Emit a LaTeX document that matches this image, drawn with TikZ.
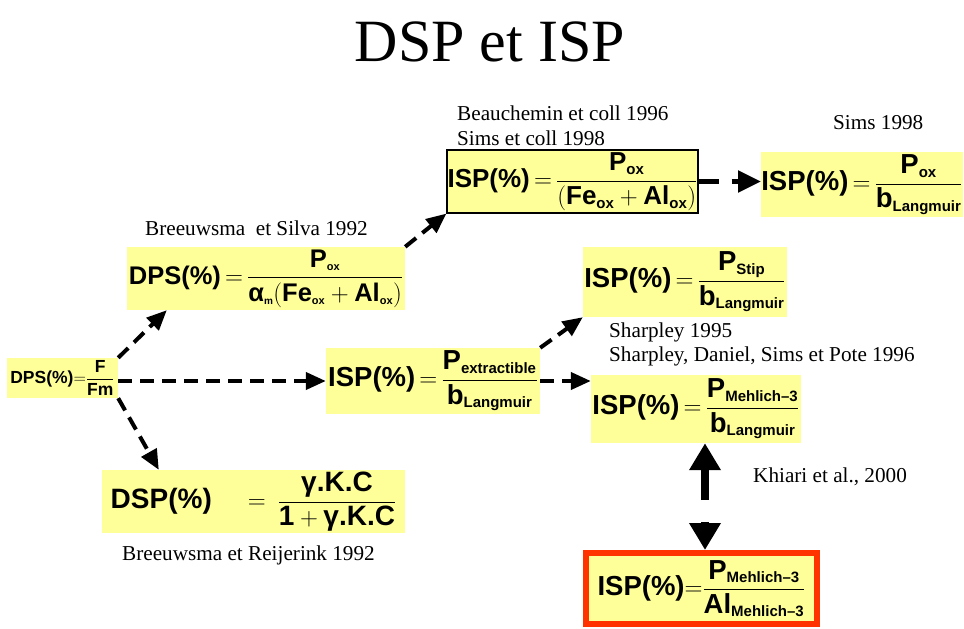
\documentclass[tikz,border=0pt]{standalone}
\usepackage{amsmath}
\usepackage{fontspec}
\setmainfont{Liberation Serif}
\setsansfont{Liberation Sans}
\usetikzlibrary{arrows.meta}
\definecolor{boxyellow}{HTML}{FFFF99}
\definecolor{framered}{HTML}{FF3300}
\newcommand\lo[2][15]{_{\hbox{\fontsize{#1}{#1}\selectfont #2}}}
\newcommand\eq{\mkern3mu{=}\mkern3mu}

\begin{document}
\begin{tikzpicture}[x=1pt,y=-1pt,
  formula/.style={fill=boxyellow, inner sep=0pt, font=\sffamily\bfseries\fontsize{27.5}{32}\selectfont},
  ref/.style={anchor=base west, inner sep=0pt, font=\fontsize{21.2}{24}\selectfont},
  dasharrow/.style={line width=4pt, dash pattern=on 14pt off 8pt, -{Triangle[length=20pt,width=17pt]}},
  bigarrow/.style={line width=8pt, -{Triangle[length=27pt,width=30pt]}}]
\useasboundingbox (0,0) rectangle (964,629);

\node[anchor=base, font=\fontsize{60}{60}\selectfont] (title) at (490,61) {DSP et ISP};

% formulas
\node[formula, minimum width=111pt, minimum height=40pt, font=\sffamily\bfseries\fontsize{17.5}{20}\selectfont] (dps0) at (62.5,378)
  {$\hbox{DPS(\%)}{=}\dfrac{\hbox{F}}{\hbox{Fm}}$};
\node[formula, minimum width=278pt, minimum height=63pt, font=\sffamily\bfseries\fontsize{25.5}{30}\selectfont] (dpsA) at (266,278.5)
  {$\hbox{DPS(\%)}\eq\dfrac{\hbox{P}\lo[11]{ox}}{\hbox{α}\lo[10]{m}\mkern-3mu\left(\hbox{Fe}\lo[11]{ox}+\hbox{Al}\lo[11]{ox}\right)}$};
\node[formula, draw=black, line width=1.2pt, minimum width=251pt, minimum height=63pt, font=\sffamily\bfseries\fontsize{26}{30}\selectfont] (ispOx) at (572.5,181.5)
  {$\hbox{ISP(\%)}\eq\dfrac{\hbox{P}\lo{ox}}{\left(\hbox{Fe}\lo{ox}+\hbox{Al}\lo{ox}\right)}$};
\node[formula, minimum width=200pt, minimum height=65pt] (sims) at (862,184.5)
  {$\hbox{ISP(\%)}\eq\dfrac{\hbox{P}\lo{ox}}{\hbox{b}\lo{Langmuir}}$};
\node[formula, minimum width=204pt, minimum height=70pt] (stip) at (685,282)
  {$\hbox{ISP(\%)}\eq\dfrac{\hbox{P}\lo{Stip}}{\hbox{b}\lo{Langmuir}}$};
\node[formula, minimum width=214pt, minimum height=66pt] (pext) at (433,381)
  {$\hbox{ISP(\%)}\eq\dfrac{\hbox{P}\lo{extractible}}{\hbox{b}\lo{Langmuir}}$};
\node[formula, minimum width=210pt, minimum height=68pt] (mehl) at (696,409)
  {$\hbox{ISP(\%)}\eq\dfrac{\hbox{P}\lo{Mehlich--3}}{\hbox{b}\lo{Langmuir}}$};
\node[formula, minimum width=303pt, minimum height=63pt, font=\sffamily\bfseries\fontsize{28}{32}\selectfont] (dsp) at (253.5,501.5)
  {$\hbox{DSP(\%)}\hspace{36pt}{=}\hspace{12pt}\dfrac{\hbox{γ.K.C}}{\hbox{1}+\hbox{γ.K.C}}$};
\node[formula, draw=framered, line width=6pt, minimum width=231pt, minimum height=71pt] (red) at (701.5,588.5)
  {$\hbox{ISP(\%)}{=}\dfrac{\hbox{P}\lo{Mehlich--3}}{\hbox{Al}\lo{Mehlich--3}}$};

% references
\node[ref] (silva) at (145,235) {Breeuwsma \ et Silva 1992};
\node[ref] (beau) at (457,120) {Beauchemin et coll 1996};
\node[ref] (simscoll) at (457,145) {Sims et coll 1998};
\node[ref] (sims98) at (833,129) {Sims 1998};
\node[ref] (sharp) at (609,337) {Sharpley 1995};
\node[ref] (sharpdan) at (609,361) {Sharpley, Daniel, Sims et Pote 1996};
\node[ref] (khiari) at (753,482) {Khiari et al., 2000};
\node[ref] (reij) at (122,560) {Breeuwsma et Reijerink 1992};

% connectors
\draw[dasharrow] (dps0.north east) -- ([xshift=40pt]dpsA.south west);
\draw[dasharrow] (dps0.east |- pext.west) -- (pext.west);
\draw[dasharrow] (dps0.south east) -- ([xshift=57pt]dsp.north west);
\draw[dasharrow] (dpsA.north east) -- (ispOx.south west);
\draw[dasharrow, line width=5pt, dash pattern=on 20pt off 13pt, -{Triangle[length=23pt,width=21pt]}] (ispOx.east) -- (ispOx.east -| sims.west);
\draw[dasharrow] (pext.north east) -- (stip.south west);
\draw[dasharrow] (pext.east) -- (pext.east -| mehl.west);

\coordinate (kup) at (705,500);
\coordinate (kdown) at (705,522);
\draw[bigarrow] (kup) -- (kup |- mehl.south);
\draw[bigarrow] (kdown) -- (kdown |- red.north);
\end{tikzpicture}
\end{document}
